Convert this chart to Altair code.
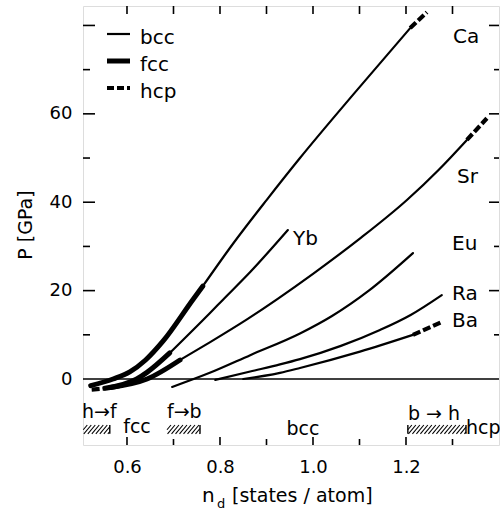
import altair as alt
import pandas as pd

FONT = "DejaVu Sans"
W, H = 416, 439

# ---- axis ranges and ticks -------------------------------------------------
ND_DOMAIN = [0.5054, 1.40]
P_DOMAIN = [-14.93, 84.4]
X_LABELS = [0.6, 0.8, 1.0, 1.2]
X_MINOR = [0.7, 0.9, 1.1, 1.3]
Y_LABELS = [0, 20, 40, 60]
Y_MAJOR = [20, 40, 60, 80]
Y_MINOR = [10, 30, 50, 70]

# ---- pressure curves P(n_d) ------------------------------------------------
CA_ND = [0.522, 0.570, 0.606, 0.640, 0.677, 0.742, 0.763, 0.828, 0.901, 0.972, 1.090, 1.209, 1.245]
CA_P = [-1.5, 0.0, 1.6, 4.3, 8.5, 18.0, 21.0, 30.6, 40.6, 50.0, 64.8, 79.4, 83.0]
CA_PHASES = [("fcc", 0.522, 0.763), ("bcc", 0.763, 1.209), ("hcp", 1.209, 1.245)]

YB_ND = [0.524, 0.553, 0.621, 0.643, 0.692, 0.778, 0.806, 0.865, 0.946]
YB_P = [-2.4, -2.1, 0.0, 1.5, 5.9, 14.9, 17.9, 24.2, 33.7]
YB_PHASES = [("hcp", 0.524, 0.553), ("fcc", 0.553, 0.692), ("bcc", 0.692, 0.946)]

SR_ND = [0.565, 0.643, 0.714, 0.778, 0.858, 1.000, 1.100, 1.202, 1.270, 1.331, 1.374]
SR_P = [-1.9, 0.0, 4.3, 8.3, 13.5, 23.8, 31.7, 40.5, 47.3, 54.1, 59.0]
SR_PHASES = [("fcc", 0.565, 0.714), ("bcc", 0.714, 1.331), ("hcp", 1.331, 1.374)]

EU_ND = [0.697, 0.778, 0.865, 0.972, 1.040, 1.120, 1.215]
EU_P = [-1.8, 1.4, 5.4, 10.3, 14.2, 20.0, 28.5]
EU_PHASES = [("bcc", 0.697, 1.215)]

RA_ND = [0.790, 0.865, 0.929, 0.972, 1.060, 1.144, 1.210, 1.277]
RA_P = [-0.2, 1.7, 3.3, 4.5, 7.5, 11.1, 14.5, 19.0]
RA_PHASES = [("bcc", 0.790, 1.277)]

BA_ND = [0.850, 0.929, 0.972, 1.101, 1.215, 1.277]
BA_P = [0.0, 1.4, 2.5, 6.2, 10.0, 12.9]
BA_PHASES = [("bcc", 0.850, 1.215), ("hcp", 1.215, 1.277)]

CURVES = {
    "Ca": (CA_ND, CA_P, CA_PHASES),
    "Yb": (YB_ND, YB_P, YB_PHASES),
    "Sr": (SR_ND, SR_P, SR_PHASES),
    "Eu": (EU_ND, EU_P, EU_PHASES),
    "Ra": (RA_ND, RA_P, RA_PHASES),
    "Ba": (BA_ND, BA_P, BA_PHASES),
}

# ---- structural transition ranges along n_d -------------------------------
TRANS_NAMES = ["h→f", "f→b", "b→h"]
TRANS_LO = [0.506, 0.686, 1.204]
TRANS_HI = [0.563, 0.757, 1.329]
BAR_P = (-12.4, -10.4)

rows = []
for name, (nd, p, phases) in CURVES.items():
    for phase, lo, hi in phases:
        for a, b in zip(nd, p):
            if lo - 1e-9 <= a <= hi + 1e-9:
                rows.append({"elem": name, "phase": phase, "seg": f"{name}-{phase}", "nd": a, "P": b})
curves = pd.DataFrame(rows)

# diagonal hatching inside each transition bar
hatch_rows = []
slant, step = 0.016, 0.0086
p0, p1 = BAR_P
for lo, hi in zip(TRANS_LO, TRANS_HI):
    x = lo - slant
    while x < hi:
        xb, yb, xt, yt = x, p0, x + slant, p1
        if xb < lo:
            yb = p0 + (lo - x) / slant * (p1 - p0)
            xb = lo
        if xt > hi:
            yt = p0 + (hi - x) / slant * (p1 - p0)
            xt = hi
        if xt > xb:
            hatch_rows.append({"nd": xb, "nd2": xt, "P": yb, "P2": yt})
        x += step
hatch = pd.DataFrame(hatch_rows)
edges = pd.DataFrame({"nd": TRANS_HI + [TRANS_LO[2]], "P": [p0] * 4, "P2": [p1] * 4})

xs = alt.Scale(domain=ND_DOMAIN, nice=False, zero=False)
ys = alt.Scale(domain=P_DOMAIN, nice=False, zero=False)
x_axis = alt.Axis(values=X_LABELS, format=".1f", ticks=False, domain=False, grid=False,
                  labelFont=FONT, labelFontSize=18, labelColor="black", labelPadding=13,
                  labelFlush=False, title=None)
y_axis = alt.Axis(values=Y_LABELS, format="d", ticks=False, domain=False, grid=False,
                  labelFont=FONT, labelFontSize=18, labelColor="black", labelPadding=11,
                  title=None)
X = alt.X("nd:Q", scale=xs, axis=x_axis)
Y = alt.Y("P:Q", scale=ys, axis=y_axis)

layers = []

# zero-pressure line
layers.append(alt.Chart(pd.DataFrame({"P": [0]})).mark_rule(color="black", strokeWidth=1.6)
              .encode(y=Y, x=alt.value(0), x2=alt.value(W)))

# curves, drawn per phase
for phase, width, dash in [("bcc", 2.2, None), ("fcc", 5.0, None), ("hcp", 4.2, [8, 3])]:
    kw = dict(color="black", strokeWidth=width, interpolate="monotone")
    if dash:
        kw.update(strokeDash=dash, strokeCap="butt")
    else:
        kw.update(strokeCap="round")
    layers.append(alt.Chart(curves[curves.phase == phase]).mark_line(**kw)
                  .encode(x=X, y=Y, detail="seg:N", order="nd:Q"))

# hatched transition bars
layers.append(alt.Chart(hatch).mark_rule(color="black", strokeWidth=1.1)
              .encode(x=X, x2="nd2:Q", y=Y, y2="P2:Q"))
layers.append(alt.Chart(edges).mark_rule(color="black", strokeWidth=1.4)
              .encode(x=X, y=Y, y2="P2:Q"))

# inward ticks on all four sides
def xticks(vals, length):
    d = pd.DataFrame({"nd": vals})
    bottom = alt.Chart(d).mark_rule(color="black", strokeWidth=1.6).encode(
        x=X, y=alt.value(H), y2=alt.value(H - length))
    top = alt.Chart(d).mark_rule(color="black", strokeWidth=1.6).encode(
        x=X, y=alt.value(0), y2=alt.value(8))
    return [bottom, top]

def yticks(vals, left_len, right_len):
    d = pd.DataFrame({"P": vals})
    left = alt.Chart(d).mark_rule(color="black", strokeWidth=1.6).encode(
        y=Y, x=alt.value(0), x2=alt.value(left_len))
    right = alt.Chart(d).mark_rule(color="black", strokeWidth=1.6).encode(
        y=Y, x=alt.value(W), x2=alt.value(W - right_len))
    return [left, right]

layers += xticks(X_LABELS, 8) + xticks(X_MINOR, 6)
layers += yticks(Y_MAJOR, 12, 10) + yticks(Y_MINOR, 7, 5)


def label(txt, x, y, size=19, align="left", angle=0, baseline="alphabetic"):
    return alt.Chart(pd.DataFrame({"t": [txt]})).mark_text(
        align=align, baseline=baseline, font=FONT, fontSize=size, angle=angle,
        color="black").encode(x=alt.value(x), y=alt.value(y), text="t:N")

# element names
for txt, x, y in [("Ca", 370, 37), ("Sr", 374, 177), ("Yb", 210, 239),
                  ("Eu", 369, 244), ("Ra", 369, 294), ("Ba", 369, 321)]:
    layers.append(label(txt, x, y, size=20))

# legend
for txt, y, width, dash in [("bcc", 28, 2.2, None), ("fcc", 55, 5.0, None), ("hcp", 82, 4.2, [7, 3])]:
    kw = dict(color="black", strokeWidth=width, strokeCap="butt")
    if dash:
        kw.update(strokeDash=dash)
    layers.append(alt.Chart(pd.DataFrame({"t": [txt]})).mark_rule(**kw).encode(
        x=alt.value(24), x2=alt.value(47), y=alt.value(y)))
    layers.append(label(txt, 57, y + 10, size=20))

# phase labels along the bottom
for txt, x, y, align in [("h→f", -1, 412, "left"), ("fcc", 54, 427, "center"),
                         ("f→b", 84, 412, "left"), ("bcc", 220, 429, "center"),
                         ("b → h", 325, 414, "left"), ("hcp", 383, 428, "left")]:
    layers.append(label(txt, x, y, size=19, align=align))

# axis titles
layers.append(label("P [GPa]", -57, 219, size=19, align="center", angle=270, baseline="middle"))
layers.append(label("n", 119, 496, size=20))
layers.append(label("d", 134, 502, size=13))
layers.append(label("[states / atom]", 149, 496, size=19))

chart = alt.layer(*layers).properties(
    width=W, height=H,
    autosize=alt.AutoSizeParams(type="none"),
    padding={"left": 83, "top": 6, "right": 1, "bottom": 65},
).configure_view(stroke="black", strokeWidth=2).configure(background="white")

chart.save("out.html", embed_options={"renderer": "svg", "actions": False})
